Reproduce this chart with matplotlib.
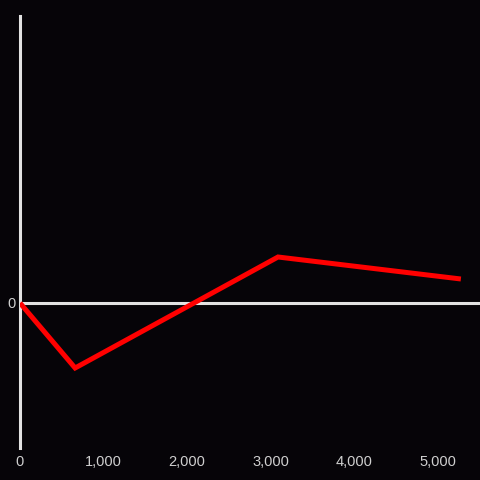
import matplotlib
matplotlib.use("Agg")
import matplotlib.pyplot as plt

# data
x_vals = [0, 660, 3090, 5280]
y_vals = [0, -65, 46, 24]
x_ticks = [0, 1000, 2000, 3000, 4000, 5000]
x_labels = ["0", "1,000", "2,000", "3,000", "4,000", "5,000"]

bg = "#060408"
axis_col = "#e2e2e2"
text_col = "#cfcfcf"

plt.rcParams["font.family"] = ["Liberation Sans", "DejaVu Sans"]

fig = plt.figure(figsize=(4.8, 4.8), dpi=100, facecolor=bg)
ax = fig.add_axes([20 / 480, 32 / 480, 460 / 480, 432 / 480], facecolor=bg)

ax.plot(x_vals, y_vals, color="#ff0000", lw=3.6, solid_joinstyle="miter",
        solid_capstyle="butt", zorder=3)
ax.axhline(0, color=axis_col, lw=2.2, zorder=2)

ax.set_xlim(0, 460 / 0.0835)
ax.set_ylim(-145, 287)

for s in ["top", "right", "bottom"]:
    ax.spines[s].set_visible(False)
ax.spines["left"].set_color(axis_col)
ax.spines["left"].set_linewidth(2.2)

ax.set_xticks(x_ticks)
ax.set_xticklabels(x_labels)
ax.set_yticks([0])
ax.set_yticklabels(["0"])
ax.tick_params(axis="both", length=0, colors=text_col, labelsize=10.5)
ax.tick_params(axis="x", pad=5)
ax.tick_params(axis="y", pad=3)

fig.savefig("out.png", dpi=100, facecolor=bg)
